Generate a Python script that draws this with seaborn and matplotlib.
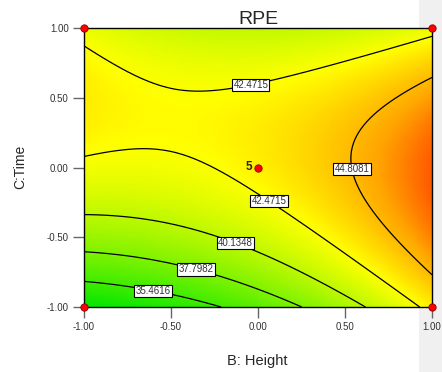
import numpy as np
import pandas as pd
import seaborn as sns
import matplotlib
matplotlib.use("Agg")
import matplotlib.pyplot as plt
from matplotlib.colors import LinearSegmentedColormap
from matplotlib.patches import Rectangle

# Quadratic response-surface model for RPE in coded units:
# intercept, B, C, BC, B^2, C^2
model_terms = ["Intercept", "B", "C", "BC", "B2", "C2"]
model_coef = [43.0019, 2.4791, 1.9184, -2.4905, 1.6304, -4.6383]

levels = [35.4616, 37.7982, 40.1348, 42.4715, 44.8081]
tick_values = [-1.0, -0.5, 0.0, 0.5, 1.0]
tick_labels = ["-1.00", "-0.50", "0.00", "0.50", "1.00"]

# design points (coded B, C)
design_b = [-1, -1, 1, 1, 0]
design_c = [-1, 1, -1, 1, 0]
center_runs = "5"

b = np.linspace(-1, 1, 81)
c = np.linspace(-1, 1, 81)
BB, CC = np.meshgrid(b, c)
k = dict(zip(model_terms, model_coef))
Z = (k["Intercept"] + k["B"] * BB + k["C"] * CC + k["BC"] * BB * CC
     + k["B2"] * BB ** 2 + k["C2"] * CC ** 2)

sns.set_style("white")
plt.rcParams["font.family"] = ["Liberation Sans", "DejaVu Sans"]

fig = plt.figure(figsize=(4.42, 3.72), dpi=100)
fig.patches.append(Rectangle((419 / 442, 0), 23 / 442, 1, transform=fig.transFigure,
                             facecolor="#f0f0f0", edgecolor="none", zorder=-5))
ax = fig.add_axes([84 / 442, 1 - 307 / 372, 348 / 442, 279 / 372])
ax.set_zorder(2)

vmin, vmax = 33.1, 47.15
nodes = [(33.1, (0 / 255, 230 / 255, 0)), (42.6, (1, 1, 0)),
         (45.5, (1, 165 / 255, 0)), (47.15, (1, 88 / 255, 0))]
cmap = LinearSegmentedColormap.from_list(
    "rpe", [((v - vmin) / (vmax - vmin), col) for v, col in nodes])
ax.pcolormesh(BB, CC, Z, cmap=cmap, vmin=vmin, vmax=vmax, shading="gouraud", zorder=0)

cs = ax.contour(BB, CC, Z, levels=levels, colors="black", linewidths=0.9)
label_pos = [(-0.046, 0.62), (0.075, -0.218), (0.546, -0.011),
             (-0.121, -0.519), (-0.351, -0.705), (-0.598, -0.855)]
texts = ax.clabel(cs, manual=label_pos, inline=False, fmt="%.4f", fontsize=7)
for t in texts:
    t.set_rotation(0)
    t.set_color("#333333")
    t.set_bbox(dict(facecolor="white", edgecolor="black", boxstyle="square,pad=0.12", linewidth=0.8))

design = pd.DataFrame({"B": design_b, "C": design_c})
sns.scatterplot(data=design, x="B", y="C", ax=ax, color="red", edgecolor="#8b0000",
                s=28, linewidth=0.6, zorder=5, clip_on=False, legend=False)
ax.text(-0.035, 0, center_runs, ha="right", va="center", fontsize=8.5, fontweight="bold", zorder=6)

ax.set_xlim(-1, 1)
ax.set_ylim(-1, 1)
ax.set_xticks(tick_values)
ax.set_yticks(tick_values)
ax.set_xticklabels(tick_labels)
ax.set_yticklabels(tick_labels)
ax.tick_params(axis="both", direction="out", length=8, width=1, color="#666666",
               labelsize=7, labelcolor="#333333", pad=3, bottom=True, left=True)
for s in ax.spines.values():
    s.set_color("black")
    s.set_linewidth(1)
ax.set_xlabel("")
ax.set_ylabel("")
ax.set_title("RPE", fontsize=14, pad=3)
fig.text(257 / 442, 1 - 361 / 372, "B: Height", ha="center", va="center", fontsize=10.5)
fig.text(20 / 442, 1 - 167 / 372, "C:Time", ha="center", va="center", rotation=90, fontsize=10)

fig.savefig("out.png", dpi=100)
